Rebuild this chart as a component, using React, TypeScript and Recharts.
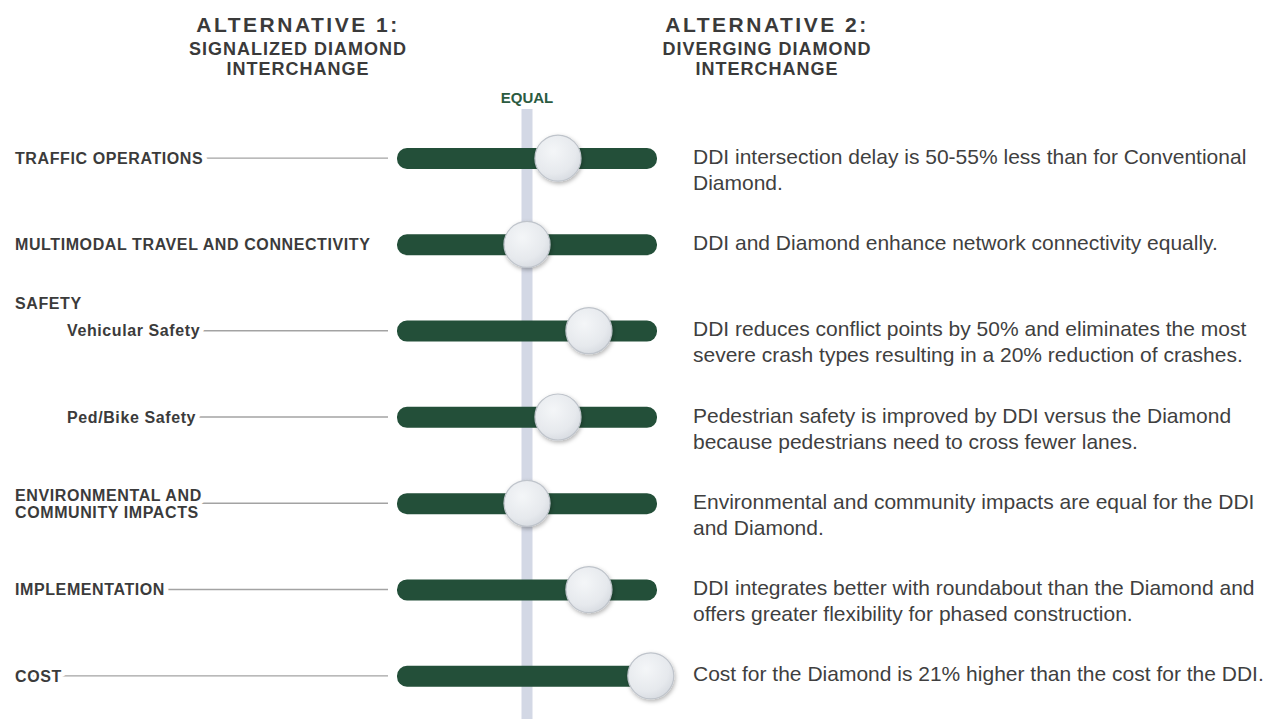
import {
  Bar,
  ComposedChart,
  ReferenceLine,
  Scatter,
  XAxis,
  YAxis,
} from "recharts";

const FONT = "'Liberation Sans', Arial, Helvetica, sans-serif";

const alternatives = [
  ["ALTERNATIVE 1:", "SIGNALIZED DIAMOND", "INTERCHANGE"],
  ["ALTERNATIVE 2:", "DIVERGING DIAMOND", "INTERCHANGE"],
];

const criteria = [
  ["TRAFFIC OPERATIONS"],
  ["MULTIMODAL TRAVEL AND CONNECTIVITY"],
  ["Vehicular Safety"],
  ["Ped/Bike Safety"],
  ["ENVIRONMENTAL AND", "COMMUNITY IMPACTS"],
  ["IMPLEMENTATION"],
  ["COST"],
];

const groups = ["", "", "SAFETY", "", "", "", ""];
const subItems = [false, false, true, true, false, false, false];
const leaders = [true, false, true, true, true, true, true];

// 0 = equal, positive leans toward alternative 2
const scores = [1, 0, 2, 1, 0, 2, 4];
const track = [-4.2, 4.2];

const findings = [
  ["DDI intersection delay is 50-55% less than for Conventional", "Diamond."],
  ["DDI and Diamond enhance network connectivity equally."],
  [
    "DDI reduces conflict points by 50% and eliminates the most",
    "severe crash types resulting in a 20% reduction of crashes.",
  ],
  [
    "Pedestrian safety is improved by DDI versus the Diamond",
    "because pedestrians need to cross fewer lanes.",
  ],
  ["Environmental and community impacts are equal for the DDI", "and Diamond."],
  [
    "DDI integrates better with roundabout than the Diamond and",
    "offers greater flexibility for phased construction.",
  ],
  ["Cost for the Diamond is 21% higher than the cost for the DDI."],
];

const names = criteria.map((c) => c.join(" "));
const data = names.map((name, i) => ({ name, track, score: scores[i] }));

const RowTick = (props: any) => {
  const { y, payload } = props;
  const i = names.indexOf(payload.value);
  if (i < 0) return null;
  const lines = criteria[i];
  const x0 = subItems[i] ? 67 : 15;
  const fs = 16;
  return (
    <g fontFamily={FONT}>
      {groups[i] && (
        <text
          x={15}
          y={y - 27 + fs * 0.36}
          fontSize={fs}
          fontWeight="bold"
          letterSpacing={0.6}
          fill="#3b3b3b"
        >
          {groups[i]}
        </text>
      )}
      {leaders[i] && (
        <line x1={x0} x2={388} y1={y} y2={y} stroke="#a3a3a3" strokeWidth={1.4} />
      )}
      <text
        fontSize={fs}
        fontWeight="bold"
        letterSpacing={0.6}
        fill="#3b3b3b"
        stroke="#fff"
        strokeWidth={10}
        strokeLinejoin="round"
        paintOrder="stroke"
      >
        {lines.map((l, k) => (
          <tspan
            key={k}
            x={x0}
            y={y + (k - (lines.length - 1) / 2) * 17 + fs * 0.36}
          >
            {l}
          </tspan>
        ))}
      </text>
      <text fontSize={21} fill="#3f3f3f">
        {findings[i].map((l, k) => (
          <tspan key={k} x={693} y={y - 2 + k * 26 + 21 * 0.36}>
            {l}
          </tspan>
        ))}
      </text>
    </g>
  );
};

const Knob = (props: any) => {
  const { cx, cy } = props;
  if (cx == null || cy == null) return null;
  return (
    <g filter="url(#knobShadow)">
      <circle
        cx={cx}
        cy={cy}
        r={23}
        fill="url(#knobFill)"
        stroke="#bfc4cb"
        strokeWidth={1.2}
      />
    </g>
  );
};

export default function App() {
  return (
    <div style={{ position: "fixed", left: 0, top: 0, background: "#fff" }}>
      <ComposedChart
        width={1273}
        height={719}
        data={data}
        layout="vertical"
        margin={{ top: 109, right: 616, bottom: 0, left: 0 }}
      >
        <defs>
          <radialGradient id="knobFill" cx="40%" cy="35%" r="70%">
            <stop offset="0%" stopColor="#f4f6f8" />
            <stop offset="70%" stopColor="#e6e9ed" />
            <stop offset="100%" stopColor="#d6dae0" />
          </radialGradient>
          <filter id="knobShadow" x="-50%" y="-50%" width="200%" height="200%">
            <feDropShadow dx="1" dy="2" stdDeviation="2" floodColor="#000" floodOpacity="0.3" />
          </filter>
        </defs>
        {alternatives.map((lines, a) => {
          const cx = a === 0 ? 298 : 767;
          return (
            <text
              key={a}
              textAnchor="middle"
              fontFamily={FONT}
              fontWeight="bold"
              fill="#3a3a3a"
            >
              <tspan x={cx} y={32} fontSize={21} letterSpacing={2.5}>
                {lines[0]}
              </tspan>
              <tspan x={cx} y={55} fontSize={18} letterSpacing={1}>
                {lines[1]}
              </tspan>
              <tspan x={cx} y={75} fontSize={18} letterSpacing={1}>
                {lines[2]}
              </tspan>
            </text>
          );
        })}
        <XAxis type="number" hide domain={track} />
        <YAxis
          type="category"
          dataKey="name"
          width={397}
          axisLine={false}
          tickLine={false}
          interval={0}
          padding={{ top: 6, bottom: 0 }}
          tick={<RowTick />}
        />
        <ReferenceLine
          x={0}
          stroke="#d3d8e5"
          strokeWidth={11}
          zIndex={100}
          label={{
            value: "EQUAL",
            position: "top",
            offset: 6,
            fill: "#2b5b41",
            fontSize: 15,
            fontWeight: "bold",
            fontFamily: FONT,
          }}
        />
        <Bar
          dataKey="track"
          barSize={21}
          radius={10}
          fill="#234f39"
          isAnimationActive={false}
        />
        <Scatter dataKey="score" shape={<Knob />} isAnimationActive={false} />
      </ComposedChart>
    </div>
  );
}
